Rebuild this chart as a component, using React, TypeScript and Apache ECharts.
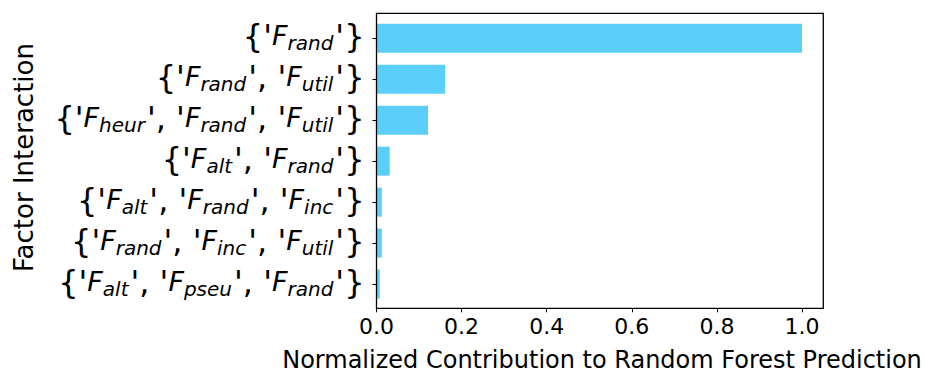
import React, { useEffect, useRef } from "react";
import * as echarts from "echarts";

// Factor sets (subscripts of F) in display order, top to bottom
const factorSets: string[][] = [
  ["rand"],
  ["rand", "util"],
  ["heur", "rand", "util"],
  ["alt", "rand"],
  ["alt", "rand", "inc"],
  ["rand", "inc", "util"],
  ["alt", "pseu", "rand"],
];
const categories: string[] = factorSets.map(
  (s) => "{" + s.map((x) => `'F_${x}'`).join(", ") + "}"
);
const contributions: number[] = [1.0, 0.161, 0.121, 0.031, 0.0125, 0.0125, 0.0078];
const xTicks: number[] = [0, 0.2, 0.4, 0.6, 0.8, 1.0];

const xAxisTitle = "Normalized Contribution to Random Forest Prediction";
const yAxisTitle = "Factor Interaction";

const FONT = "DejaVu Sans";
const BAR_COLOR = "#5BCEFA";

// Build rich-text markup for a factor set: {'F_a', 'F_b'}
function richLabel(set: string[]): string {
  const parts = set.map((x, i) => {
    const lead = i === 0 ? "{b|{'}" : "{b|', '}";
    return `${lead}{f|F}{s|${x}}`;
  });
  return parts.join("") + "{b|'}" + "}";
}

export default function App() {
  const ref = useRef<HTMLDivElement>(null);

  useEffect(() => {
    if (!ref.current) return;
    const chart = echarts.init(ref.current, null, { renderer: "svg" });

    const plotLeft = 376.5;
    const plotRight = 823.3;
    const plotTop = 13.3;
    const plotBottom = 308.3;
    const band = 40.95;
    const firstCenter = 38.3;
    const gridTop = firstCenter - band / 2;
    const gridBottomY = gridTop + band * categories.length;

    chart.setOption({
      animation: false,
      backgroundColor: "#ffffff",
      grid: {
        left: plotLeft,
        right: 925 - plotRight,
        top: gridTop,
        bottom: 375 - gridBottomY,
        containLabel: false,
      },
      xAxis: {
        type: "value",
        min: 0,
        max: 1.05,
        interval: 0.2,
        offset: plotBottom - gridBottomY,
        splitLine: { show: false },
        axisLine: { show: false },
        axisTick: {
          show: true,
          length: 4,
          lineStyle: { color: "#000", width: 1 },
          customValues: xTicks,
        },
        axisLabel: {
          show: true,
          customValues: xTicks,
          margin: 7,
          color: "#000",
          fontFamily: FONT,
          fontSize: 22,
          formatter: (v: number) => v.toFixed(1),
        },
      },
      yAxis: {
        type: "category",
        data: categories,
        inverse: true,
        axisLine: { show: false },
        axisTick: {
          show: true,
          alignWithLabel: true,
          interval: 0,
          length: 4,
          lineStyle: { color: "#000", width: 1 },
        },
        axisLabel: {
          interval: 0,
          margin: 12,
          color: "#000",
          fontFamily: FONT,
          fontSize: 32,
          padding: [0, 0, 5, 0],
          formatter: (_v: string, idx: number) => richLabel(factorSets[idx]),
          rich: {
            b: { fontFamily: FONT, fontSize: 32, color: "#000" },
            f: { fontFamily: FONT, fontSize: 27, fontStyle: "italic", color: "#000" },
            s: {
              fontFamily: FONT,
              fontSize: 20,
              fontStyle: "italic",
              color: "#000",
              padding: [14, 2, 0, 0],
            },
          },
        },
      },
      series: [
        {
          type: "bar",
          data: contributions,
          barWidth: 29,
          itemStyle: { color: BAR_COLOR },
          silent: true,
        },
      ],
      graphic: [
        {
          type: "rect",
          shape: {
            x: plotLeft,
            y: plotTop,
            width: plotRight - plotLeft,
            height: plotBottom - plotTop,
          },
          style: { fill: "none", stroke: "#000", lineWidth: 1.3 },
          z: 100,
          silent: true,
        },
        {
          type: "text",
          x: 602,
          y: 360,
          style: {
            text: xAxisTitle,
            fontFamily: FONT,
            fontSize: 24,
            fill: "#000",
            align: "center",
            verticalAlign: "middle",
          },
          silent: true,
        },
        {
          type: "text",
          x: 24.3,
          y: 157.5,
          rotation: Math.PI / 2,
          style: {
            text: yAxisTitle,
            fontFamily: FONT,
            fontSize: 26,
            fill: "#000",
            align: "center",
            verticalAlign: "middle",
          },
          silent: true,
        },
      ],
    });

    return () => chart.dispose();
  }, []);

  return (
    <div
      ref={ref}
      style={{ position: "fixed", left: 0, top: 0, width: 925, height: 375, background: "#fff" }}
    />
  );
}
